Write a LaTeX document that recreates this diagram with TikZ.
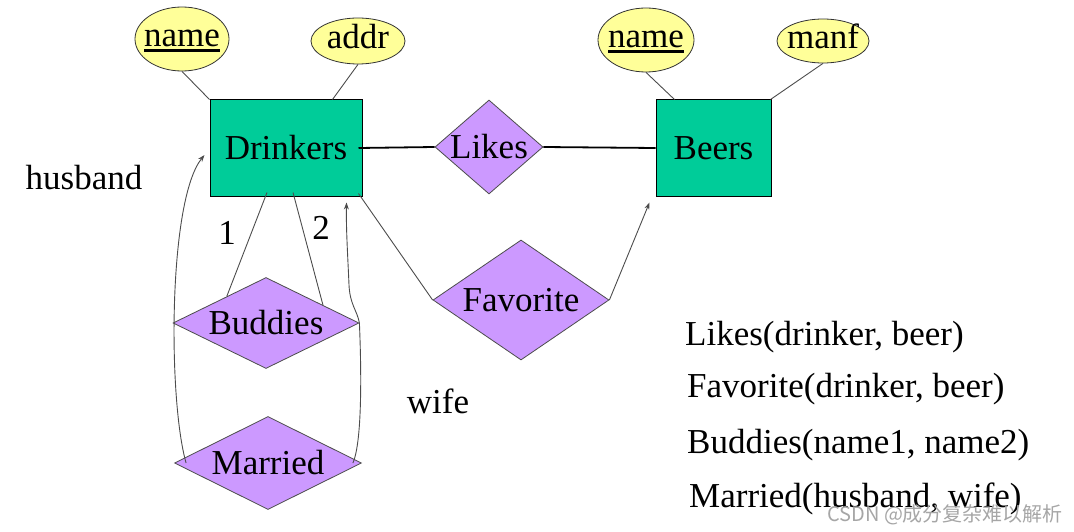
\documentclass[tikz,border=0pt]{standalone}
\usepackage{fontspec}
\setmainfont{Liberation Serif}
\newfontfamily\cjk{Noto Sans CJK SC}
\usetikzlibrary{shapes.geometric,arrows.meta,calc}
\definecolor{entgreen}{RGB}{0,204,153}
\definecolor{attryellow}{RGB}{255,255,153}
\definecolor{relpurple}{RGB}{204,153,255}
\newcommand\keyname[1]{\setbox0\hbox{#1}\rlap{\rule[-6pt]{\wd0}{3.5pt}}\box0}
\begin{document}
\begin{tikzpicture}[x=1pt,y=-1pt,font=\fontsize{35}{40}\selectfont,
  ent/.style={draw=black,line width=1pt,fill=entgreen,inner sep=0pt,minimum height=96pt},
  attr/.style={ellipse,draw=black!80,line width=0.8pt,fill=attryellow,inner sep=0pt,inner xsep=-12pt,text height=15pt,text depth=0pt},
  rel/.style={diamond,draw=black!70,line width=0.8pt,fill=relpurple,inner sep=0pt},
  conn/.style={draw=black!70,line width=0.9pt},
  arr/.style={conn,-{Stealth[length=7pt,width=5pt]}},
  plain/.style={inner sep=0pt}]
\useasboundingbox (0,0) rectangle (1074,532);
% entities
\node[ent,minimum width=152pt] (drk) at (286,148) {Drinkers\hspace{6pt}};
\node[ent,minimum width=115pt] (beers) at (713.5,148) {Beers};
% attributes
\node[attr,minimum width=94pt,minimum height=64pt] (nameL) at (182,39) {\keyname{name}};
\node[attr,minimum width=94pt,minimum height=46pt] (addr) at (358,41) {addr};
\node[attr,minimum width=96pt,minimum height=64pt] (nameR) at (646,40) {\keyname{name}};
\node[attr,minimum width=92pt,minimum height=44pt] (manf) at (823,41) {manf};
% relationships
\node[rel,shape aspect=1.15,minimum width=108pt,minimum height=94pt] (likes) at (489,147) {Likes};
\node[rel,shape aspect=1.47,minimum width=176pt,minimum height=120pt] (fav) at (521,300) {Favorite};
\node[rel,shape aspect=2.04,minimum width=186pt,minimum height=91pt] (bud) at (266,323) {Buddies};
\node[rel,shape aspect=2.01,minimum width=187pt,minimum height=93pt] (mar) at (268,463) {Married};
% attribute links
\draw[conn] (nameL.south) -- (drk.north west);
\draw[conn] (addr.south) -- ([xshift=-30pt]drk.north east);
\draw[conn] (nameR.south) -- ([xshift=19pt]beers.north west);
\draw[conn] (manf.south) -- ([xshift=-1pt]beers.north east);
% Likes
\draw[line width=1.8pt] ([xshift=-4pt]drk.east) -- (likes.west);
\draw[line width=1.8pt] (likes.east) -- (beers.west);
% Favorite
\draw[conn] ([xshift=-4pt,yshift=3pt]drk.south east) -- (fav.west);
\draw[arr] (fav.east) -- ([xshift=-6pt,yshift=-6pt]beers.south west);
% Buddies
\draw[conn] ([xshift=-19pt,yshift=4pt]drk.south) -- ($(bud.north)!0.42!(bud.west)$);
\draw[conn] ([xshift=7pt,yshift=4pt]drk.south) -- ($(bud.north)!0.61!(bud.east)$);
\node[plain] (one) at (227,233) {1};
\node[plain] (two) at (321,228) {2};
% Married
\draw[arr] ([xshift=12pt]mar.west) .. controls (168,400) and (168,200) .. ([xshift=-5pt,yshift=-7pt]drk.west);
\draw[arr] ([xshift=-9pt]mar.east) .. controls (363,440) and (361,360) .. (bud.east)
  .. controls (357,310) and (350,305) .. (349,285)
  .. controls (348,260) and (346,230) .. ([xshift=-16pt,yshift=-6pt]drk.south east);
\node[plain] (husband) at (84,178) {husband};
\node[plain] (wife) at (438,401) {wife};
% schemas
\node[plain,anchor=base west] (s1) at (685,345) {Likes(drinker, beer)};
\node[plain,anchor=base west] (s2) at (687,397) {Favorite(drinker, beer)};
\node[plain,anchor=base west] (s3) at (687,453) {Buddies(name1, name2)};
\node[plain,anchor=base west] (s4) at (689,507) {Married(husband, wife)};
\node[plain,anchor=base west,text=black!35,font=\cjk\fontsize{20}{22}\selectfont] (wm) at (827,521) {CSDN @成分复杂难以解析};
\end{tikzpicture}
\end{document}
